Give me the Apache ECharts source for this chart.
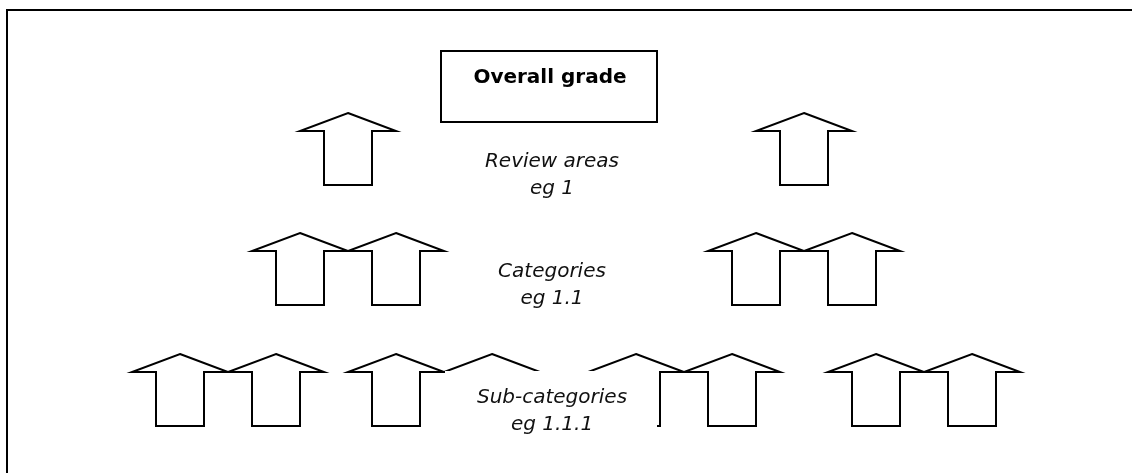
<!DOCTYPE html>
<html>
<head>
<meta charset="utf-8">
<title>Grade structure</title>
<script src="https://cdn.jsdelivr.net/npm/echarts@6/dist/echarts.min.js"></script>
<style>
  html, body { margin: 0; padding: 0; background: #fff; }
  #chart { width: 1132px; height: 473px; }
</style>
</head>
<body>
<div id="chart"></div>
<script>
// text of the diagram
const levelNames = ['Overall grade', 'Review areas', 'Categories', 'Sub-categories'];
const levelExamples = ['', 'eg 1', 'eg 1.1', 'eg 1.1.1'];

// arrow centres (x) for each row
const reviewAreaArrows = [348, 804];
const categoryArrows = [300, 396, 756, 852];
const subCategoryArrows = [180, 276, 396, 492, 636, 732, 876, 972];

// layout: tip y of each arrow row, centre y of each caption
const rowTip = [113, 233, 354];
const captionY = [175, 285, 411];
const W = 1132, H = 473;

const arrowData = [];
[reviewAreaArrows, categoryArrows, subCategoryArrows].forEach((row, i) => {
    row.forEach(x => arrowData.push([x, rowTip[i]]));
});

const chart = echarts.init(document.getElementById('chart'));

function renderArrow(params, api) {
    const cx = api.value(0), tip = api.value(1);
    const pts = [
        [cx, tip], [cx + 48, tip + 18], [cx + 24, tip + 18], [cx + 24, tip + 72],
        [cx - 24, tip + 72], [cx - 24, tip + 18], [cx - 48, tip + 18]
    ].map(p => api.coord(p));
    return {
        type: 'polygon',
        shape: { points: pts },
        style: { fill: 'none', stroke: '#000', lineWidth: 2 }
    };
}

const italic = {
    fontFamily: 'DejaVu Sans',
    fontStyle: 'italic',
    fontSize: 20,
    lineHeight: 27,
    fill: '#111',
    align: 'center',
    verticalAlign: 'middle'
};

chart.setOption({
    animation: false,
    grid: { left: 0, right: 0, top: 0, bottom: 0 },
    xAxis: { type: 'value', min: 0, max: W, show: false },
    yAxis: { type: 'value', min: 0, max: H, inverse: true, show: false },
    graphic: [
        // outer frame (top and left only are visible)
        { type: 'polyline', z: 100, shape: { points: [[7, H], [7, 10], [W, 10]] },
          style: { fill: 'none', stroke: '#000', lineWidth: 2 } },
        // overall grade box
        { type: 'rect', z: 100, shape: { x: 441, y: 51, width: 216, height: 71 },
          style: { fill: '#fff', stroke: '#000', lineWidth: 2 } },
        { type: 'text', z: 101, x: 550, y: 78,
          style: { text: levelNames[0], fontFamily: 'DejaVu Sans', fontWeight: 'bold',
                   fontSize: 20, fill: '#000', align: 'center', verticalAlign: 'middle' } },
        { type: 'text', z: 101, x: 552, y: captionY[0],
          style: Object.assign({ text: levelNames[1] + '\n' + levelExamples[1] }, italic) },
        { type: 'text', z: 101, x: 552, y: captionY[1],
          style: Object.assign({ text: levelNames[2] + '\n' + levelExamples[2] }, italic) },
        // white text box hiding the middle sub-category arrows
        { type: 'rect', z: 100, shape: { x: 445, y: 371, width: 212, height: H - 371 },
          style: { fill: '#fff', stroke: null } },
        { type: 'text', z: 101, x: 552, y: captionY[2],
          style: Object.assign({ text: levelNames[3] + '\n' + levelExamples[3] }, italic) }
    ],
    series: [{
        type: 'custom',
        renderItem: renderArrow,
        data: arrowData,
        silent: true
    }]
});
</script>
</body>
</html>
